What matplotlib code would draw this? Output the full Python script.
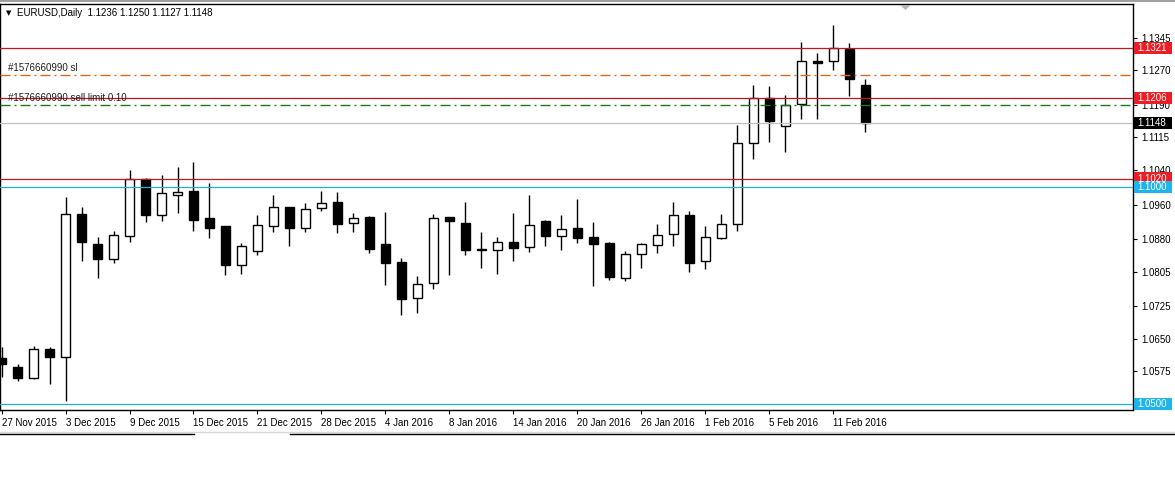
import matplotlib
matplotlib.use("Agg")
import matplotlib.pyplot as plt
from matplotlib.patches import Rectangle, Polygon
from matplotlib.transforms import blended_transform_factory
import pandas as pd

# ---------------- data ----------------
dates = ["2015-11-27", "2015-11-30", "2015-12-01", "2015-12-02", "2015-12-03", "2015-12-04",
         "2015-12-07", "2015-12-08", "2015-12-09", "2015-12-10", "2015-12-11",
         "2015-12-14", "2015-12-15", "2015-12-16", "2015-12-17", "2015-12-18",
         "2015-12-21", "2015-12-22", "2015-12-23", "2015-12-24",
         "2015-12-28", "2015-12-29", "2015-12-30", "2015-12-31",
         "2016-01-04", "2016-01-05", "2016-01-06", "2016-01-07", "2016-01-08",
         "2016-01-11", "2016-01-12", "2016-01-13", "2016-01-14", "2016-01-15",
         "2016-01-18", "2016-01-19", "2016-01-20", "2016-01-21", "2016-01-22",
         "2016-01-25", "2016-01-26", "2016-01-27", "2016-01-28", "2016-01-29",
         "2016-02-01", "2016-02-02", "2016-02-03", "2016-02-04", "2016-02-05",
         "2016-02-08", "2016-02-09", "2016-02-10", "2016-02-11", "2016-02-12",
         "2016-02-15"]

opens = [1.0605, 1.0585, 1.0561, 1.0628, 1.0609, 1.0938, 1.0869, 1.0834, 1.0887, 1.1020,
         1.0937, 1.0981, 1.0991, 1.0929, 1.0910, 1.0821, 1.0852, 1.0910, 1.0954, 1.0907,
         1.0951, 1.0966, 1.0917, 1.0931, 1.0869, 1.0827, 1.0744, 1.0778, 1.0931, 1.0917,
         1.0857, 1.0854, 1.0874, 1.0861, 1.0922, 1.0887, 1.0906, 1.0885, 1.0871, 1.0790,
         1.0845, 1.0866, 1.0891, 1.0936, 1.0829, 1.0883, 1.0914, 1.1101, 1.1205, 1.1140,
         1.1191, 1.1291, 1.1290, 1.1319, 1.1236]
highs = [1.0632, 1.0592, 1.0634, 1.0631, 1.0977, 1.0954, 1.0884, 1.0899, 1.1040, 1.1021,
         1.1028, 1.1047, 1.1058, 1.1010, 1.0911, 1.0871, 1.0936, 1.0982, 1.0954, 1.0964,
         1.0991, 1.0989, 1.0940, 1.0934, 1.0943, 1.0837, 1.0795, 1.0938, 1.0931, 1.0966,
         1.0897, 1.0884, 1.0940, 1.0982, 1.0924, 1.0936, 1.0973, 1.0920, 1.0873, 1.0853,
         1.0871, 1.0915, 1.0966, 1.0945, 1.0910, 1.0938, 1.1143, 1.1236, 1.1233, 1.1213,
         1.1335, 1.1309, 1.1375, 1.1332, 1.1250]
lows = [1.0563, 1.0554, 1.0558, 1.0547, 1.0508, 1.0830, 1.0791, 1.0826, 1.0874, 1.0920,
        1.0923, 1.0941, 1.0900, 1.0883, 1.0798, 1.0800, 1.0844, 1.0897, 1.0865, 1.0897,
        1.0946, 1.0895, 1.0897, 1.0849, 1.0775, 1.0706, 1.0711, 1.0766, 1.0798, 1.0844,
        1.0814, 1.0800, 1.0830, 1.0851, 1.0865, 1.0856, 1.0872, 1.0773, 1.0785, 1.0784,
        1.0814, 1.0848, 1.0865, 1.0805, 1.0811, 1.0881, 1.0900, 1.1066, 1.1105, 1.1082,
        1.1158, 1.1158, 1.1271, 1.1211, 1.1127]
closes = [1.0592, 1.0561, 1.0628, 1.0609, 1.0938, 1.0874, 1.0834, 1.0889, 1.1020, 1.0937,
          1.0986, 1.0988, 1.0925, 1.0907, 1.0821, 1.0864, 1.0912, 1.0954, 1.0907, 1.0949,
          1.0963, 1.0916, 1.0928, 1.0858, 1.0826, 1.0743, 1.0776, 1.0928, 1.0921, 1.0854,
          1.0854, 1.0873, 1.0860, 1.0912, 1.0888, 1.0903, 1.0883, 1.0870, 1.0794, 1.0845,
          1.0868, 1.0889, 1.0937, 1.0826, 1.0884, 1.0914, 1.1103, 1.1205, 1.1153, 1.1189,
          1.1291, 1.1287, 1.1320, 1.1250, 1.1148]

price_ticks = [1.0500, 1.0575, 1.0650, 1.0725, 1.0805, 1.0880, 1.0960, 1.1040,
               1.1115, 1.1190, 1.1270, 1.1345]

level_prices = [1.1321, 1.1206, 1.1020, 1.1000, 1.0500]
level_colors = ["#C8141E", "#C8141E", "#C8141E", "#20AEDC", "#20AEDC"]
level_box_colors = ["#EE1C24", "#EE1C24", "#EE1C24", "#1EB4EE", "#1EB4EE"]
bid_price = 1.1148
sl_price = 1.1259
limit_price = 1.1189
order_sl_text = "#1576660990 sl"
order_limit_text = "#1576660990 sell limit 0.10"
title_text = "EURUSD,Daily  1.1236 1.1250 1.1127 1.1148"

# ---------------- figure ----------------
plt.rcParams["font.family"] = ["Liberation Sans", "DejaVu Sans"]
plt.rcParams["lines.scale_dashes"] = False
W, H = 1175, 500
fig = plt.figure(figsize=(W / 100, H / 100), dpi=100)
fig.patch.set_facecolor("white")
ax = fig.add_axes([0 / W, (H - 410) / H, 1133 / W, 406 / H])
ax.set_facecolor("white")

n = len(opens)
xs = list(range(n))
body_w = 0.6
for x, o, h, l, c in zip(xs, opens, highs, lows, closes):
    ax.vlines(x, l, h, color="black", lw=1.0, zorder=2)
    bottom = min(o, c)
    height = max(abs(c - o), 0.00012)
    face = "white" if c > o else "black"
    ax.add_patch(Rectangle((x - body_w / 2, bottom), body_w, height,
                           facecolor=face, edgecolor="black", lw=1.0, zorder=3))

ax.set_xlim(-0.094, 70.72)
ax.set_ylim(1.04862, 1.14224)

# horizontal levels
for p, col in zip(level_prices, level_colors):
    ax.axhline(p, color=col, lw=0.9, zorder=4)
ax.axhline(bid_price, color="#C0C0C0", lw=0.9, zorder=4)
dash = (0, (7.2, 2.9, 1.4, 2.9))
ax.axhline(sl_price, color="#DC6A1C", lw=1.0, zorder=4, linestyle=dash)
ax.axhline(limit_price, color="#1A7A1A", lw=1.0, zorder=4, linestyle=dash)

tr = blended_transform_factory(ax.transAxes, ax.transData)
ax.text(8 / 1133, sl_price + 0.0005, order_sl_text, transform=tr, fontsize=7,
        ha="left", va="bottom", color="#202020", zorder=5)
ax.text(8 / 1133, limit_price + 0.0005, order_limit_text, transform=tr, fontsize=7,
        ha="left", va="bottom", color="#202020", zorder=5)

# axes ticks (1.0500 label is covered by the price box in the reference)
ax.yaxis.tick_right()
ax.set_yticks(price_ticks)
ax.set_yticklabels(["" if abs(t - 1.05) < 1e-9 else f"{t:.4f}" for t in price_ticks])
ax.tick_params(axis="y", direction="out", length=3, width=0.8, pad=3, labelsize=7,
               colors="black")
tick_idx = list(range(0, n, 4))
ax.set_xticks(tick_idx)
dts = pd.to_datetime(dates)
ax.set_xticklabels([f"{dts[i].day} {dts[i].strftime('%b %Y')}" for i in tick_idx],
                   ha="left")
ax.tick_params(axis="x", direction="out", length=3, width=0.8, pad=2.5, labelsize=7)
for s in ax.spines.values():
    s.set_color("black")
    s.set_linewidth(1.0)

# price boxes on the right scale
box_h = 0.0029
box_x0 = 1.0 + 1 / 1133
box_w = 38 / 1133
box_prices = level_prices + [bid_price]
box_cols = level_box_colors + ["black"]
for p, col in zip(box_prices, box_cols):
    ax.add_patch(Rectangle((box_x0, p - box_h / 2), box_w, box_h, transform=tr,
                           facecolor=col, edgecolor="none", clip_on=False, zorder=10))
    ax.text(box_x0 + 3 / 1133, p, f"{p:.4f}", transform=tr, color="white", fontsize=7,
            ha="left", va="center", clip_on=False, zorder=11)

# header / window chrome
fig.add_artist(Rectangle((0, 1 - 2 / H), 1, 2 / H, transform=fig.transFigure,
                         facecolor="#A0A0A0", edgecolor="none"))
fig.text(6 / W, 1 - 13 / H, "\u25BC", fontsize=5, family="DejaVu Sans",
         ha="left", va="center")
fig.text(17 / W, 1 - 13 / H, title_text, fontsize=7, ha="left", va="center")
fig.add_artist(Polygon([[900 / W, 1 - 5 / H], [911 / W, 1 - 5 / H], [905.5 / W, 1 - 10 / H]],
                       closed=True, transform=fig.transFigure, facecolor="#B8B8B8",
                       edgecolor="none"))
fig.add_artist(plt.Line2D([0, 1], [1 - 431.5 / H, 1 - 431.5 / H], transform=fig.transFigure,
                          color="#D8D8D8", lw=1.0))
fig.add_artist(plt.Line2D([0, 194 / W], [1 - 433.5 / H, 1 - 433.5 / H],
                          transform=fig.transFigure, color="black", lw=1.0))
fig.add_artist(plt.Line2D([290 / W, 1], [1 - 433.5 / H, 1 - 433.5 / H],
                          transform=fig.transFigure, color="black", lw=1.0))

fig.savefig("out.png", dpi=100)
